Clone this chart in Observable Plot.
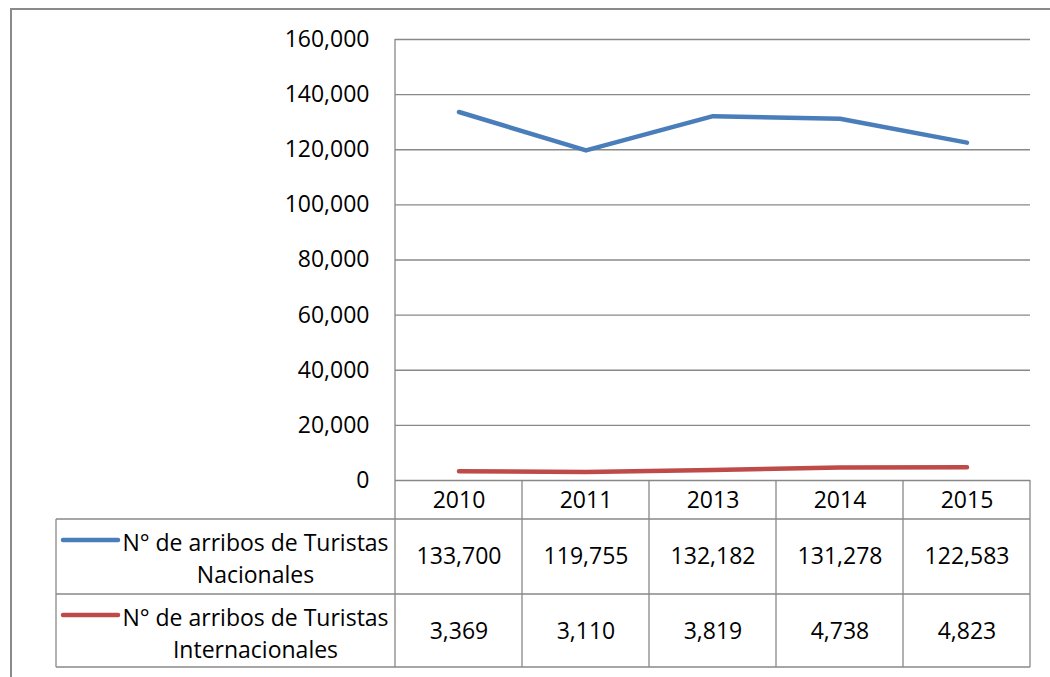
<!DOCTYPE html>
<html><head><meta charset="utf-8">
<script src="https://cdn.jsdelivr.net/npm/d3@7"></script>
<script src="https://cdn.jsdelivr.net/npm/@observablehq/plot@0.6"></script>
<style>
html,body{margin:0;padding:0;background:#fff;}
#chart svg{display:block;}
</style></head><body><div id="chart"></div>
<script>
// ---- data ----
const years = ["2010", "2011", "2013", "2014", "2015"];
const nacionales = [133700, 119755, 132182, 131278, 122583];
const internacionales = [3369, 3110, 3819, 4738, 4823];
const seriesLabels = ["N° de arribos de Turistas\nNacionales", "N° de arribos de Turistas\nInternacionales"];
const seriesColors = ["#4A7EBB", "#BE4B48"];
const yTicks = [0, 20000, 40000, 60000, 80000, 100000, 120000, 140000, 160000];

const seriesValues = [nacionales, internacionales];
const fmt = d3.format(",");
const FONT = "'Open Sans', sans-serif";
const GRAY = "#888888";

// layout of the data table below the plot (offsets from the zero line, px)
const rowEdges = [0, 39, 114, 187];
const rowCenters = [20, 76, 151];
const labelLeft = 56;
const keyInset = 7, keyLen = 55;
const labelDx = -140;

function tableAndFrame(index, scales, values, dims) {
  const {x, y} = scales;
  const bw = x.bandwidth();
  const xs = years.map(d => x(d));
  xs.push(xs[xs.length - 1] + bw);
  const y0 = y(0);
  const top = y(yTicks[yTicks.length - 1]);
  const left = dims.marginLeft;
  const right = dims.width - dims.marginRight;
  const g = d3.create("svg:g").attr("fill", "none");
  const line = (x1, y1, x2, y2, color = GRAY, w = 1.3) =>
    g.append("line").attr("x1", x1).attr("y1", y1).attr("x2", x2).attr("y2", y2)
      .attr("stroke", color).attr("stroke-width", w);
  // vertical axis line, continuing through the table
  line(left, top, left, y0 + rowEdges[3]);
  // horizontal table lines
  for (let k = 1; k < rowEdges.length; k++) line(labelLeft, y0 + rowEdges[k], right, y0 + rowEdges[k]);
  // vertical table lines
  xs.slice(1).forEach(xv => line(xv, y0, xv, y0 + rowEdges[3]));
  line(labelLeft, y0 + rowEdges[1], labelLeft, y0 + rowEdges[3]);
  // legend keys
  seriesColors.forEach((c, i) => {
    const yy = y0 + rowCenters[i + 1] - 16;
    g.append("line").attr("x1", labelLeft + keyInset).attr("x2", labelLeft + keyInset + keyLen)
      .attr("y1", yy).attr("y2", yy).attr("stroke", c).attr("stroke-width", 4.5)
      .attr("stroke-linecap", "round");
  });
  // outer chart border
  g.append("rect").attr("x", 11).attr("y", 9).attr("width", dims.width + 20).attr("height", dims.height + 20)
    .attr("stroke", "#8a8a8a").attr("stroke-width", 2);
  return g.node();
}

const chart = Plot.plot({
  width: 1050,
  height: 677,
  marginLeft: 395,
  marginRight: 20,
  marginTop: 39,
  marginBottom: 197,
  style: {fontFamily: FONT, fontSize: "23px", color: "#000", background: "#fff"},
  x: {type: "band", domain: years, padding: 0, axis: null},
  y: {domain: [0, 160000], axis: null},
  marks: [
    Plot.gridY({ticks: yTicks, stroke: GRAY, strokeOpacity: 1, strokeWidth: 1.3}),
    Plot.axisY({ticks: yTicks, tickFormat: fmt, tickSize: 0, tickPadding: 26, label: null, fontSize: 23}),
    tableAndFrame,
    ...seriesValues.map((vals, s) =>
      Plot.line(years, {x: d => d, y: (d, i) => vals[i], stroke: seriesColors[s], strokeWidth: 4.5,
        strokeLinecap: "round", strokeLinejoin: "round"})),
    Plot.text(years, {x: d => d, text: d => d, frameAnchor: "bottom", dy: rowCenters[0], lineAnchor: "middle", fontSize: 23}),
    ...seriesValues.map((vals, s) =>
      Plot.text(years, {x: d => d, text: (d, i) => fmt(vals[i]), frameAnchor: "bottom", dy: rowCenters[s + 1], lineAnchor: "middle", fontSize: 23})),
    ...seriesLabels.map((lab, s) =>
      Plot.text([lab], {text: d => d, frameAnchor: "bottom-left", dx: labelDx, dy: rowCenters[s + 1], textAnchor: "middle", lineAnchor: "middle", lineHeight: 1.4, fontSize: 23}))
  ]
});
document.getElementById("chart").appendChild(chart);
</script>
</body></html>
